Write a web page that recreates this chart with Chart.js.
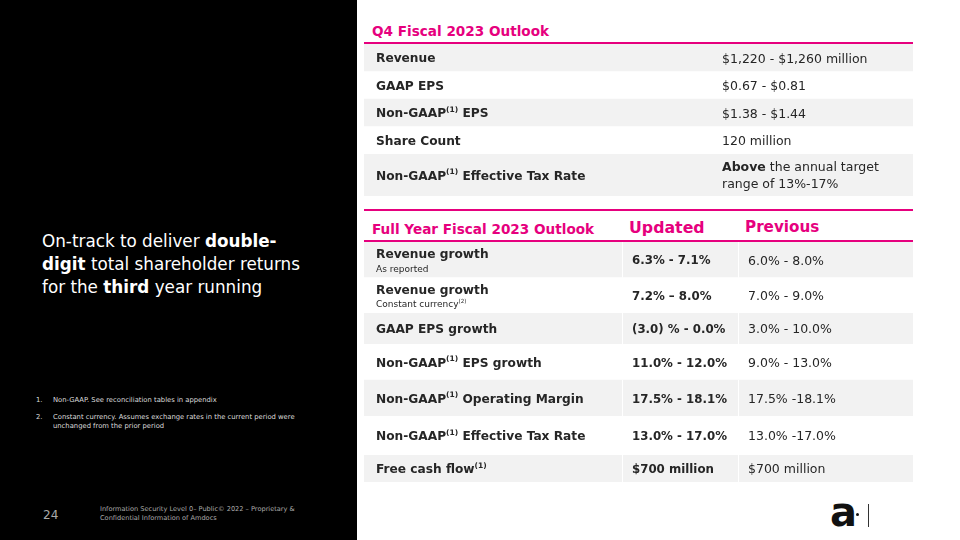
<!DOCTYPE html>
<html><head><meta charset="utf-8">
<script src="https://cdn.jsdelivr.net/npm/chart.js@4.4.1/dist/chart.umd.min.js"></script>
<style>
html,body{margin:0;padding:0;}
body{width:960px;height:540px;position:relative;overflow:hidden;background:#fff;font-family:"DejaVu Sans",sans-serif;}
#left{position:absolute;left:0;top:0;width:357px;height:540px;background:#000;}
.abs{position:absolute;white-space:nowrap;}
.pink{color:#E6007E;font-weight:bold;}
.rule{position:absolute;background:#E6007E;height:2px;}
canvas{position:absolute;}
#headline{left:42px;top:230px;color:#fff;font-size:16.8px;line-height:23px;}
.fn{color:#ddd;font-size:6.8px;line-height:9px;}
</style></head>
<body>
<div id="left"></div>
<div id="stage"></div>
<script>
// ---------- data ----------
const q4Title = 'Q4 Fiscal 2023 Outlook';
const q4Metrics = ['Revenue', 'GAAP EPS', 'Non-GAAP(1) EPS', 'Share Count', 'Non-GAAP(1) Effective Tax Rate'];
const q4Values = ['$1,220 - $1,260 million', '$0.67 - $0.81', '$1.38 - $1.44', '120 million', '**Above** the annual target\nrange of 13%-17%'];

const fyTitle = 'Full Year Fiscal 2023 Outlook';
const fyColumns = ['Updated', 'Previous'];
const fyMetrics = ['Revenue growth', 'Revenue growth', 'GAAP EPS growth', 'Non-GAAP(1) EPS growth', 'Non-GAAP(1) Operating Margin', 'Non-GAAP(1) Effective Tax Rate', 'Free cash flow(1)'];
const fyNotes = ['As reported', 'Constant currency(2)', '', '', '', '', ''];
const fyUpdated = ['6.3% - 7.1%', '7.2% \u2013 8.0%', '(3.0) % - 0.0%', '11.0% - 12.0%', '17.5% - 18.1%', '13.0% - 17.0%', '$700 million'];
const fyPrevious = ['6.0% - 8.0%', '7.0% - 9.0%', '3.0% - 10.0%', '9.0% - 13.0%', '17.5% -18.1%', '13.0% -17.0%', '$700 million'];

const headline = 'On-track to deliver **double-**\n**digit** total shareholder returns\nfor the **third** year running';
const footnotes = ['Non-GAAP. See reconciliation tables in appendix', 'Constant currency. Assumes exchange rates in the current period were\nunchanged from the prior period'];
const pageNumber = '24';
const footerText = 'Information Security Level 0\u2013 Public\u00a9 2022 \u2013 Proprietary &\nConfidential Information of Amdocs';

// ---------- layout ----------
const TABLE_LEFT = 364, TABLE_W = 549;
const FONT = '"DejaVu Sans", sans-serif';
const PINK = '#E6007E', GREY = '#F2F2F2', TEXT = '#262626';
const Y_NUDGE = 1.5;
// [firstRow, endRow, top, bottom] bands
const q4Bands = [[0, 4, 44, 154], [4, 5, 154, 196]];
const fyBands = [[0, 2, 242, 313], [2, 3, 313, 344], [3, 5, 344, 416], [5, 6, 416, 455], [6, 7, 455, 482]];

const stage = document.getElementById('stage');
function el(tag, cls, css, html) {
  const e = document.createElement(tag);
  if (cls) e.className = cls;
  Object.assign(e.style, css || {});
  if (html !== undefined) e.innerHTML = html;
  stage.appendChild(e);
  return e;
}
function richHTML(s) {
  return s.replace(/\*\*(.+?)\*\*/g, '<b>$1</b>').replace(/\n/g, '<br>');
}

// left panel text
el('div', 'abs', {}, richHTML(headline)).id = 'headline';
footnotes.forEach((t, i) => {
  const top = [396, 413][i];
  el('div', 'abs fn', {left: '36px', top: top + 'px'}, (i + 1) + '.');
  el('div', 'abs fn', {left: '53px', top: top + 'px'}, richHTML(t));
});
el('div', 'abs', {left: '43px', top: '508px', color: '#aaa', fontSize: '12px'}, pageNumber);
el('div', 'abs fn', {left: '100px', top: '505px', color: '#aaa', fontSize: '6.6px'}, richHTML(footerText));
// logo
el('div', 'abs', {left: '830px', top: '492px', fontSize: '40px', fontWeight: 'bold', color: '#111', fontFamily: FONT, lineHeight: '40px'}, 'a');
el('div', 'abs', {left: '855.5px', top: '512.5px', width: '3.5px', height: '3.5px', background: '#111', borderRadius: '50%'});
el('div', 'abs', {left: '867.5px', top: '504px', width: '1.5px', height: '23px', background: '#333'});

// titles & rules
el('div', 'abs pink', {left: '372px', top: '23px', fontSize: '13.6px', fontFamily: FONT}, q4Title);
el('div', 'rule', {left: TABLE_LEFT + 'px', top: '42px', width: TABLE_W + 'px'});
el('div', 'rule', {left: TABLE_LEFT + 'px', top: '209px', width: TABLE_W + 'px'});
el('div', 'abs pink', {left: '372px', top: '221px', fontSize: '13.6px', fontFamily: FONT}, fyTitle);
el('div', 'abs pink', {left: '629px', top: '218px', fontSize: '15.8px', fontFamily: FONT}, fyColumns[0]);
el('div', 'abs pink', {left: '745px', top: '218px', fontSize: '15.2px', fontFamily: FONT}, fyColumns[1]);
el('div', 'rule', {left: TABLE_LEFT + 'px', top: '240px', width: TABLE_W + 'px'});

// ---------- rich text drawing on canvas ----------
function drawRich(ctx, text, x, y, size, baseBold, color) {
  ctx.fillStyle = color;
  ctx.textBaseline = 'middle';
  ctx.textAlign = 'left';
  const parts = text.split(/(\*\*.+?\*\*|\(\d\))/).filter(p => p.length);
  let cx = x;
  parts.forEach(p => {
    let bold = baseBold, sz = size, dy = 0, t = p;
    if (/^\*\*.+\*\*$/.test(p)) { bold = true; t = p.slice(2, -2); }
    else if (/^\(\d\)$/.test(p)) { sz = size * 0.62; dy = -size * 0.33; }
    ctx.font = (bold ? 'bold ' : '') + sz + 'px ' + FONT;
    ctx.fillText(t, cx, y + dy);
    cx += ctx.measureText(t).width;
  });
}

// ---------- table chart builder ----------
function tableChart(band, opts) {
  const [r0, r1, top, bottom] = band;
  const c = document.createElement('canvas');
  c.width = TABLE_W; c.height = bottom - top;
  c.style.left = TABLE_LEFT + 'px'; c.style.top = top + 'px';
  stage.appendChild(c);
  const labels = opts.labels.slice(r0, r1);
  const idx = labels.map((_, i) => r0 + i);
  const cellPlugin = {
    id: 'cells',
    afterDatasetsDraw(chart) {
      const ctx = chart.ctx, xs = chart.scales.x, ys = chart.scales.y;
      ctx.save();
      idx.forEach((row, i) => {
        const yc = ys.getPixelForValue(i) + Y_NUDGE;
        const half = ys.getPixelForValue(0.5) - ys.getPixelForValue(0);
        if (opts.separators && row % 2 === 0) {
          ctx.fillStyle = '#fff';
          opts.separators.forEach(sx => ctx.fillRect(Math.round(xs.getPixelForValue(sx)), yc - Y_NUDGE - half, 1, half * 2));
        }
        const note = opts.notes ? opts.notes[row] : '';
        if (note) {
          drawRich(ctx, opts.labels[row], xs.getPixelForValue(opts.labelX), yc - 6, 12.2, true, TEXT);
          drawRich(ctx, note, xs.getPixelForValue(opts.labelX), yc + 8, 9, false, TEXT);
        } else {
          drawRich(ctx, opts.labels[row], xs.getPixelForValue(opts.labelX), yc, 12.2, true, TEXT);
        }
        opts.cols.forEach(col => {
          const lines = col.values[row].split('\n');
          const lh = 17;
          lines.forEach((ln, k) => {
            drawRich(ctx, ln, xs.getPixelForValue(col.x), yc + (k - (lines.length - 1) / 2) * lh, col.size, col.bold, TEXT);
          });
        });
      });
      ctx.restore();
    }
  };
  return new Chart(c, {
    type: 'bar',
    data: {
      labels: labels,
      datasets: [{
        data: labels.map(() => [0, TABLE_W]),
        backgroundColor: idx.map(r => r % 2 === 0 ? GREY : '#FFFFFF'),
        borderWidth: 0,
        categoryPercentage: 1,
        barPercentage: 1
      }]
    },
    options: {
      indexAxis: 'y',
      responsive: false,
      animation: false,
      devicePixelRatio: 1,
      layout: {padding: 0},
      plugins: {legend: {display: false}, tooltip: {enabled: false}, title: {display: false}},
      scales: {
        x: {type: 'linear', display: false, min: 0, max: TABLE_W},
        y: {type: 'category', display: false, offset: true, grid: {offset: true}}
      }
    },
    plugins: [cellPlugin]
  });
}

q4Bands.forEach(b => tableChart(b, {
  labels: q4Metrics, labelX: 12,
  cols: [{values: q4Values, x: 358, bold: false, size: 12.5}]
}));
fyBands.forEach(b => tableChart(b, {
  labels: fyMetrics, notes: fyNotes, labelX: 12, separators: [258, 374],
  cols: [{values: fyUpdated, x: 268, bold: true, size: 11.8}, {values: fyPrevious, x: 384, bold: false, size: 12.5}]
}));
</script>
</body></html>
